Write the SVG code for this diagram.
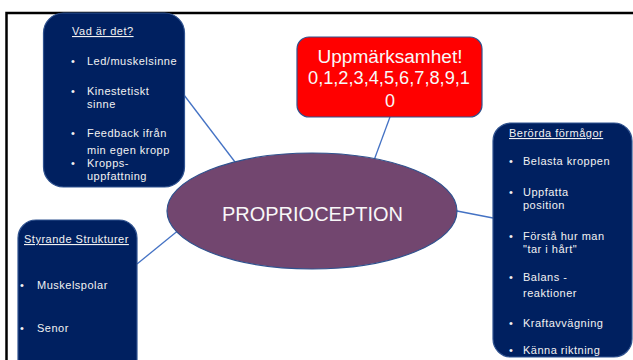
<svg xmlns="http://www.w3.org/2000/svg" width="633" height="360" viewBox="0 0 633 360">
<style>
.box{fill:#002060;stroke:#2f528f;stroke-width:1.2}
.t{font-family:"Liberation Sans",Arial,sans-serif;font-size:11px;letter-spacing:0.5px;fill:#f2f2f2}
.u{text-decoration:underline}
.conn{stroke:#4472c4;stroke-width:1.3;fill:none}
.big{font-family:"Liberation Sans",Arial,sans-serif;fill:#f8f8f8;text-anchor:middle}
</style>
<rect width="633" height="360" fill="#ffffff"/>
<path d="M6.5 360 V13 H633" fill="none" stroke="#000" stroke-width="2.5"/>
<g id="connectors">
<line class="conn" x1="184" y1="95" x2="235" y2="162"/>
<line class="conn" x1="390" y1="117" x2="373" y2="163"/>
<line class="conn" x1="137" y1="264" x2="180" y2="229"/>
<line class="conn" x1="457" y1="211" x2="493" y2="218"/>
</g>
<g id="vad">
<rect class="box" x="43.5" y="13" width="141" height="174" rx="20"/>
<text class="t u" x="72" y="35">Vad är det?</text>
<text class="t" x="71" y="65">•</text><text class="t" x="87" y="65">Led/muskelsinne</text>
<text class="t" x="71" y="95">•</text><text class="t" x="87" y="95">Kinestetiskt</text>
<text class="t" x="87" y="108">sinne</text>
<text class="t" x="71" y="137">•</text><text class="t" x="87" y="137">Feedback ifrån</text>
<text class="t" x="87" y="154">min egen kropp</text>
<text class="t" x="71" y="167">•</text><text class="t" x="87" y="167">Kropps-</text>
<text class="t" x="87" y="180">uppfattning</text>
</g>
<g id="styrande">
<rect class="box" x="18" y="220" width="119" height="160" rx="18"/>
<text class="t u" x="24" y="243">Styrande Strukturer</text>
<text class="t" x="20" y="289">•</text><text class="t" x="37" y="289">Muskelspolar</text>
<text class="t" x="20" y="332">•</text><text class="t" x="37" y="332">Senor</text>
</g>
<g id="berorda">
<rect class="box" x="493" y="123" width="139" height="234" rx="18"/>
<text class="t u" x="509" y="137">Berörda förmågor</text>
<text class="t" x="509" y="165">•</text><text class="t" x="523" y="165">Belasta kroppen</text>
<text class="t" x="509" y="196">•</text><text class="t" x="523" y="196">Uppfatta</text>
<text class="t" x="523" y="209">position</text>
<text class="t" x="509" y="240">•</text><text class="t" x="523" y="240">Förstå hur man</text>
<text class="t" x="523" y="253">"tar i hårt"</text>
<text class="t" x="509" y="281">•</text><text class="t" x="523" y="281">Balans -</text>
<text class="t" x="523" y="297">reaktioner</text>
<text class="t" x="509" y="327">•</text><text class="t" x="523" y="327">Kraftavvägning</text>
<text class="t" x="509" y="354">•</text><text class="t" x="523" y="354">Känna riktning</text>
</g>
<g id="uppmarksamhet">
<rect x="297" y="37" width="185" height="80" rx="12" fill="#ff0000" stroke="#2f528f" stroke-width="1.2"/>
<text class="big" x="390" y="63" font-size="18" textLength="145" lengthAdjust="spacingAndGlyphs">Uppmärksamhet!</text>
<text class="big" x="389" y="84" font-size="18" textLength="162" lengthAdjust="spacingAndGlyphs">0,1,2,3,4,5,6,7,8,9,1</text>
<text class="big" x="390" y="107" font-size="18">0</text>
</g>
<g id="proprioception">
<ellipse cx="312" cy="211" rx="145" ry="58" fill="#72466f" stroke="#2f528f" stroke-width="1.2"/>
<text class="big" x="312.5" y="221" font-size="20">PROPRIOCEPTION</text>
</g>
</svg>
